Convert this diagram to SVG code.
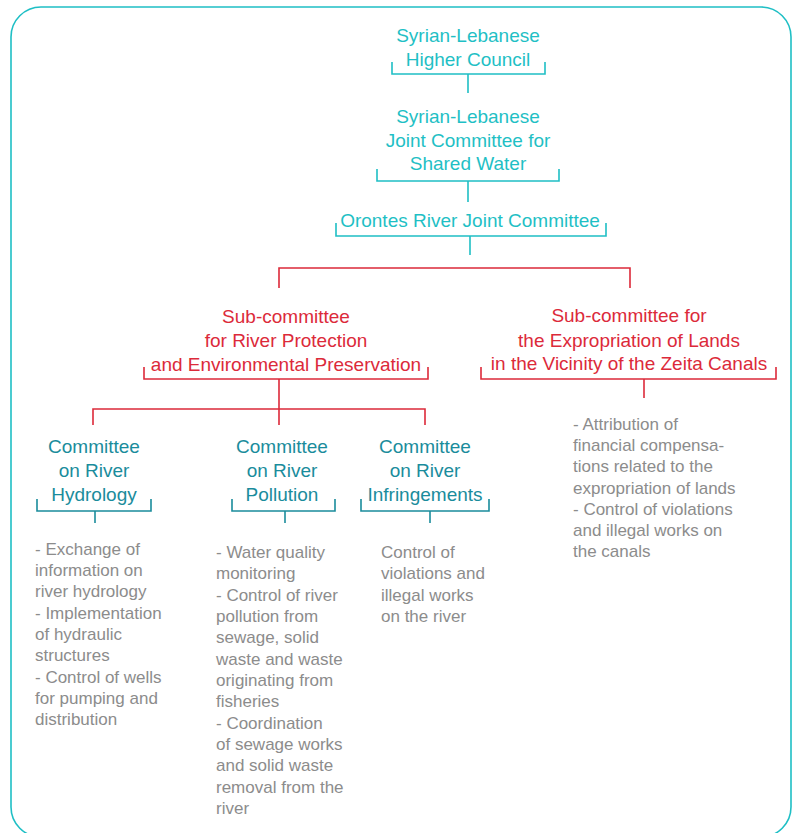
<svg xmlns="http://www.w3.org/2000/svg" width="797" height="833" viewBox="0 0 797 833">
<style>
text{font-family:"Liberation Sans",Arial,sans-serif}
.top{fill:#1fbfc5;font-size:19px;text-anchor:middle}
.sub{fill:#dc2a3a;font-size:19px;text-anchor:middle}
.com{fill:#1a8c9c;font-size:19px;text-anchor:middle}
.desc{fill:#8c8c8c;font-size:17px}
.bt{fill:none;stroke:#1fbfc5;stroke-width:1.6}
.br{fill:none;stroke:#dc2a3a;stroke-width:1.6}
.bc{fill:none;stroke:#1a8c9c;stroke-width:1.6}
</style>
<rect x="11" y="7" width="780" height="830" rx="30" ry="30" fill="#fff" stroke="#1fbfc5" stroke-width="1.6"/>
<g id="connectors">
<path class="bt" d="M468 74V93"/>
<path class="bt" d="M468 181V202"/>
<path class="bt" d="M470 236V255"/>
<path class="br" d="M279 288V268H630V288"/>
<path class="br" d="M279 379V425M93 425V409H425V425"/>
<path class="br" d="M644 379V398"/>
<path class="bc" d="M95 511V523"/>
<path class="bc" d="M285 511V523"/>
<path class="bc" d="M430 511V523"/>
</g>
<g id="higher-council">
<text class="top" x="468" y="42">Syrian-Lebanese</text>
<text class="top" x="468" y="66">Higher Council</text>
<path class="bt" d="M392 62V74H545V62"/>
</g>
<g id="joint-committee">
<text class="top" x="468" y="123">Syrian-Lebanese</text>
<text class="top" x="468" y="147">Joint Committee for</text>
<text class="top" x="468" y="170">Shared Water</text>
<path class="bt" d="M377 169V181H559V169"/>
</g>
<g id="orontes">
<text class="top" x="470" y="227">Orontes River Joint Committee</text>
<path class="bt" d="M336 223V236H606V223"/>
</g>
<g id="sub-protection">
<text class="sub" x="286" y="323">Sub-committee</text>
<text class="sub" x="286" y="347">for River Protection</text>
<text class="sub" x="286" y="371">and Environmental Preservation</text>
<path class="br" d="M144 367V379H428V367"/>
</g>
<g id="sub-expropriation">
<text class="sub" x="629" y="322">Sub-committee for</text>
<text class="sub" x="629" y="347">the Expropriation of Lands</text>
<text class="sub" x="629" y="370">in the Vicinity of the Zeita Canals</text>
<path class="br" d="M481 367V379H776V367"/>
<text class="desc" x="573" y="430">- Attribution of</text>
<text class="desc" x="573" y="451">financial compensa-</text>
<text class="desc" x="573" y="472">tions related to the</text>
<text class="desc" x="573" y="494">expropriation of lands</text>
<text class="desc" x="573" y="515">- Control of violations</text>
<text class="desc" x="573" y="536">and illegal works on</text>
<text class="desc" x="573" y="557">the canals</text>
</g>
<g id="hydrology">
<text class="com" x="94" y="453">Committee</text>
<text class="com" x="94" y="477">on River</text>
<text class="com" x="94" y="501">Hydrology</text>
<path class="bc" d="M37 499V511H151V499"/>
<text class="desc" x="35" y="555">- Exchange of</text>
<text class="desc" x="35" y="576">information on</text>
<text class="desc" x="35" y="597">river hydrology</text>
<text class="desc" x="35" y="619">- Implementation</text>
<text class="desc" x="35" y="640">of hydraulic</text>
<text class="desc" x="35" y="661">structures</text>
<text class="desc" x="35" y="683">- Control of wells</text>
<text class="desc" x="35" y="704">for pumping and</text>
<text class="desc" x="35" y="725">distribution</text>
</g>
<g id="pollution">
<text class="com" x="282" y="453">Committee</text>
<text class="com" x="282" y="477">on River</text>
<text class="com" x="282" y="501">Pollution</text>
<path class="bc" d="M232 499V511H335V499"/>
<text class="desc" x="216" y="558">- Water quality</text>
<text class="desc" x="216" y="579">monitoring</text>
<text class="desc" x="216" y="601">- Control of river</text>
<text class="desc" x="216" y="622">pollution from</text>
<text class="desc" x="216" y="643">sewage, solid</text>
<text class="desc" x="216" y="665">waste and waste</text>
<text class="desc" x="216" y="686">originating from</text>
<text class="desc" x="216" y="707">fisheries</text>
<text class="desc" x="216" y="729">- Coordination</text>
<text class="desc" x="216" y="750">of sewage works</text>
<text class="desc" x="216" y="771">and solid waste</text>
<text class="desc" x="216" y="793">removal from the</text>
<text class="desc" x="216" y="814">river</text>
</g>
<g id="infringements">
<text class="com" x="425" y="453">Committee</text>
<text class="com" x="425" y="477">on River</text>
<text class="com" x="425" y="501">Infringements</text>
<path class="bc" d="M361 499V511H489V499"/>
<text class="desc" x="381" y="558">Control of</text>
<text class="desc" x="381" y="579">violations and</text>
<text class="desc" x="381" y="601">illegal works</text>
<text class="desc" x="381" y="622">on the river</text>
</g>
</svg>
